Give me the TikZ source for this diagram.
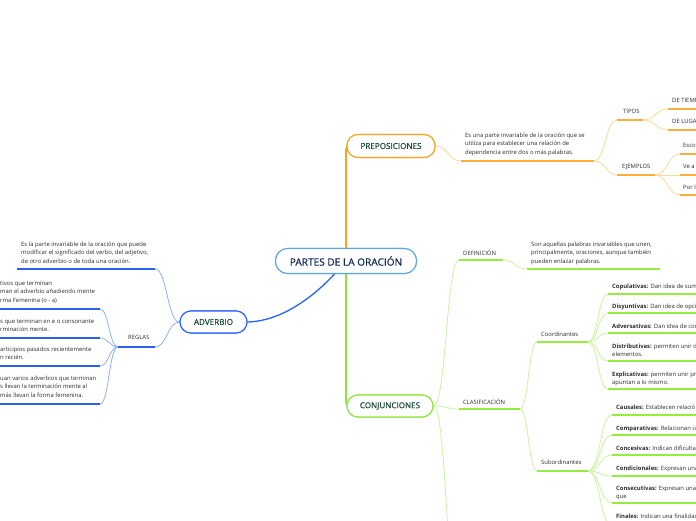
\documentclass[tikz,border=0pt]{standalone}
\usepackage{fontspec}
\setmainfont{Open Sans}
\usetikzlibrary{calc}
\definecolor{cCen}{HTML}{5DA8E2}
\definecolor{cNavy}{HTML}{12295A}
\definecolor{cDark}{HTML}{174A3A}
\definecolor{cTxt}{HTML}{2E2E2E}
\definecolor{cOr}{HTML}{F8A41E}
\definecolor{cOrU}{HTML}{FBAF3A}
\definecolor{cOrL}{HTML}{FFD89A}
\definecolor{cGr}{HTML}{8FE43F}
\definecolor{cGrU}{HTML}{94EE3C}
\definecolor{cGrL}{HTML}{C8F59E}
\definecolor{cBl}{HTML}{2A62FF}
\definecolor{cBlU}{HTML}{2B5FF2}
\definecolor{cBlL}{HTML}{8FB0FF}
\tikzset{
  sc/.style={to path={let \p1=(\tikztostart),\p2=(\tikztotarget) in .. controls ({0.5*\x1+0.5*\x2},\y1) and ({0.5*\x1+0.5*\x2},\y2) .. (\tikztotarget)}},
  mainnode/.style={draw, fill=white, line width=1.1pt, rounded corners=11pt, inner sep=0pt, font=\fontsize{8.1}{9}\selectfont\addfontfeature{FakeBold=0.6}, text=cDark},
  txt/.style={anchor=north west, inner sep=0pt, align=left, font=\fontsize{5.9}{8.6}\selectfont, text=cTxt},
  ulor/.style={line width=2pt, cOrU},
  ulgr/.style={line width=2pt, cGrU},
  ulbl/.style={line width=2pt, cBlU},
  cnor/.style={line width=0.8pt, cOrL},
  cngr/.style={line width=0.8pt, cGrL},
  cnbl/.style={line width=0.8pt, cBlL},
}
\begin{document}
\begin{tikzpicture}[x=1pt,y=-1pt]
\useasboundingbox (0,0) rectangle (696,520);
\clip (0,0) rectangle (696,520);
\fill[white] (0,0) rectangle (696,520);

% main nodes (placed first so connectors can reference them)
\node[mainnode, draw=cCen, text=cNavy, minimum width=141pt, minimum height=25pt, rounded corners=12pt, font=\fontsize{10.1}{11}\selectfont\addfontfeature{FakeBold=0.6}] (c) at (346,261) {PARTES DE LA ORACIÓN};
\node[mainnode, draw=cOr, minimum width=88pt, minimum height=23pt] (prep) at (391,146) {PREPOSICIONES};
\node[mainnode, draw=cGr, minimum width=86pt, minimum height=22pt] (conj) at (390,406) {CONJUNCIONES};
\node[mainnode, draw=cBl, minimum width=67pt, minimum height=22pt] (adv) at (213.5,322) {ADVERBIO};
\coordinate (cb) at (335,273.5);

% ---------- coordinates ----------
% orange
\coordinate (pdL) at (461,161); \coordinate (pdR) at (594,161);
\coordinate (tiL) at (617,120); \coordinate (tiR) at (643,120);
\coordinate (ejL) at (617,175); \coordinate (ejR) at (655,175);
\coordinate (dtL) at (668,109); \coordinate (dtR) at (700,109);
\coordinate (dlL) at (668,130); \coordinate (dlR) at (700,130);
\coordinate (esL) at (680,154); \coordinate (esR) at (700,154);
\coordinate (vaL) at (680,175); \coordinate (vaR) at (700,175);
\coordinate (plL) at (680,195); \coordinate (plR) at (700,195);
% green
\coordinate (dfL) at (459,260); \coordinate (dfR) at (503,260);
\coordinate (ddL) at (527,269); \coordinate (ddR) at (660,269);
\coordinate (clL) at (459,409); \coordinate (clR) at (520,409);
\coordinate (dn) at (459,600);
\coordinate (coL) at (537,342); \coordinate (coR) at (588,342);
\coordinate (suL) at (537,471); \coordinate (suR) at (588,471);
\coordinate (k1L) at (608,294); \coordinate (k1R) at (700,294);
\coordinate (k2L) at (608,313); \coordinate (k2R) at (700,313);
\coordinate (k3L) at (608,333); \coordinate (k3R) at (700,333);
\coordinate (k4L) at (608,361); \coordinate (k4R) at (700,361);
\coordinate (k5L) at (608,389); \coordinate (k5R) at (700,389);
\coordinate (s1L) at (612,415); \coordinate (s1R) at (700,415);
\coordinate (s2L) at (612,435); \coordinate (s2R) at (700,435);
\coordinate (s3L) at (612,455); \coordinate (s3R) at (700,455);
\coordinate (s4L) at (612,476); \coordinate (s4R) at (700,476);
\coordinate (s5L) at (612,503); \coordinate (s5R) at (700,503);
\coordinate (s6L) at (612,526); \coordinate (s6R) at (700,526);
% blue
\coordinate (adL) at (17,269); \coordinate (adR) at (155,269);
\coordinate (reL) at (118,347); \coordinate (reR) at (155,347);
\coordinate (r1L) at (-5,309); \coordinate (r1R) at (100,309);
\coordinate (r2L) at (-5,338); \coordinate (r2R) at (100,338);
\coordinate (r3L) at (-5,366); \coordinate (r3R) at (100,366);
\coordinate (r4L) at (-5,404); \coordinate (r4R) at (100,404);

% ---------- main branches ----------
\draw[line width=2pt, cOr, rounded corners=4pt] (c.north) |- (prep.west);
\draw[line width=2pt, cGr, rounded corners=4pt] (c.south) |- (conj.west);
\draw[line width=1.3pt, cBl] (cb) .. controls (318,292) and (285,321) .. (adv.east);

% ---------- connectors ----------
\draw[cnor] (prep.east) to[sc] (pdL);
\draw[cnor] (pdR) to[sc] (tiL);
\draw[cnor] (pdR) to[sc] (ejL);
\draw[cnor] (tiR) to[sc] (dtL);
\draw[cnor] (tiR) to[sc] (dlL);
\draw[cnor] (ejR) to[sc] (esL);
\draw[cnor] (ejR) to[sc] (vaL);
\draw[cnor] (ejR) to[sc] (plL);

\draw[cngr] (conj.east) to[sc] (dfL);
\draw[cngr] (conj.east) to[sc] (clL);
\draw[cngr] (conj.east) to[sc] (dn);
\draw[cngr] (dfR) to[sc] (ddL);
\draw[cngr] (clR) to[sc] (coL);
\draw[cngr] (clR) to[sc] (suL);
\foreach \k in {k1,k2,k3,k4,k5} \draw[cngr] (coR) to[sc] (\k L);
\foreach \k in {s1,s2,s3,s4,s5,s6} \draw[cngr] (suR) to[sc] (\k L);

\draw[cnbl] (adv.west) to[sc] (adR);
\draw[cnbl] (adv.west) to[sc] (reR);
\foreach \k in {r1,r2,r3,r4} \draw[cnbl] (reL) to[sc] (\k R);

% ---------- underlines ----------
\foreach \k in {pd,ti,ej,dt,dl,es,va,pl} \draw[ulor] (\k L) -- (\k R);
\foreach \k in {df,dd,cl,co,su,k1,k2,k3,k4,k5,s1,s2,s3,s4,s5,s6} \draw[ulgr] (\k L) -- (\k R);
\foreach \k in {ad,re,r1,r2,r3,r4} \draw[ulbl] (\k L) -- (\k R);

% redraw main nodes on top of their branch lines
\node[mainnode, draw=cCen, text=cNavy, minimum width=141pt, minimum height=25pt, rounded corners=12pt, font=\fontsize{10.1}{11}\selectfont\addfontfeature{FakeBold=0.6}] at (c) {PARTES DE LA ORACIÓN};
\node[mainnode, draw=cOr, minimum width=88pt, minimum height=23pt] at (prep) {PREPOSICIONES};
\node[mainnode, draw=cGr, minimum width=86pt, minimum height=22pt] at (conj) {CONJUNCIONES};
\node[mainnode, draw=cBl, minimum width=67pt, minimum height=22pt] at (adv) {ADVERBIO};

% ---------- texts ----------
\node[txt] (pd) at (465,132.5) {Es una parte invariable de la oración que se\\utiliza para establecer una relación de\\dependencia entre dos o más palabras.};
\node[txt] (ti) at (623,109.5) {TIPOS};
\node[txt] (ej) at (622,164.5) {EJEMPLOS};
\node[txt] (dt) at (672,98.5) {DE TIEMPO};
\node[txt] (dl) at (672,119.5) {DE LUGAR};
\node[txt] (es) at (683,143.5) {Esco};
\node[txt] (va) at (683,164.5) {Ve a};
\node[txt] (pl) at (683,184.5) {Por l};

\node[txt] (df) at (463,249.5) {DEFINICIÓN};
\node[txt] (dd) at (531,241.5) {Son aquellas palabras invariables que unen,\\principalmente, oraciones, aunque también\\pueden enlazar palabras.};
\node[txt] (cl) at (463,398.5) {CLASIFICACIÓN};
\node[txt] (co) at (541,331.5) {Coordinantes};
\node[txt] (su) at (541,459.5) {Subordinantes};
\node[txt] (k1) at (612,283.5) {\textbf{Copulativas:} Dan idea de suma};
\node[txt] (k2) at (612,303.5) {\textbf{Disyuntivas:} Dan idea de opción};
\node[txt] (k3) at (612,323.5) {\textbf{Adversativas:} Dan idea de contra};
\node[txt] (k4) at (612,343.5) {\textbf{Distributivas:} permiten unir de\\elementos.};
\node[txt] (k5) at (612,371.5) {\textbf{Explicativas:} permiten unir pre\\apuntan a lo mismo.};
\node[txt] (s1) at (616,404.5) {\textbf{Causales:} Establecen relació};
\node[txt] (s2) at (616,425.5) {\textbf{Comparativas:} Relacionan co};
\node[txt] (s3) at (616,445.5) {\textbf{Concesivas:} Indican dificultad};
\node[txt] (s4) at (616,465.5) {\textbf{Condicionales:} Expresan una};
\node[txt] (s5) at (616,485.5) {\textbf{Consecutivas:} Expresan una c\\que};
\node[txt] (s6) at (616,513.5) {\textbf{Finales:} Indican una finalidad};

\node[txt] (ad) at (21,241.5) {Es la parte invariable de la oración que puede\\modificar el significado del verbo, del adjetivo,\\de otro adverbio o de toda una oración.};
\node[txt] (re) at (128,335.5) {REGLAS};
\node[txt] (r1) at (0,280.5) {tivos que terminan\\man el adverbio añadiendo mente\\rma Femenina (o - a)};
\node[txt] (r2) at (0,318.5) {s que terminan en e o consonante\\rminación mente.};
\node[txt] (r3) at (0,346.5) {articipios pasados recientemente\\n recién.};
\node[txt] (r4) at (0,375.5) {uan varios adverbios que terminan\\s llevan la terminación mente al\\más llevan la forma femenina.};
\end{tikzpicture}
\end{document}
